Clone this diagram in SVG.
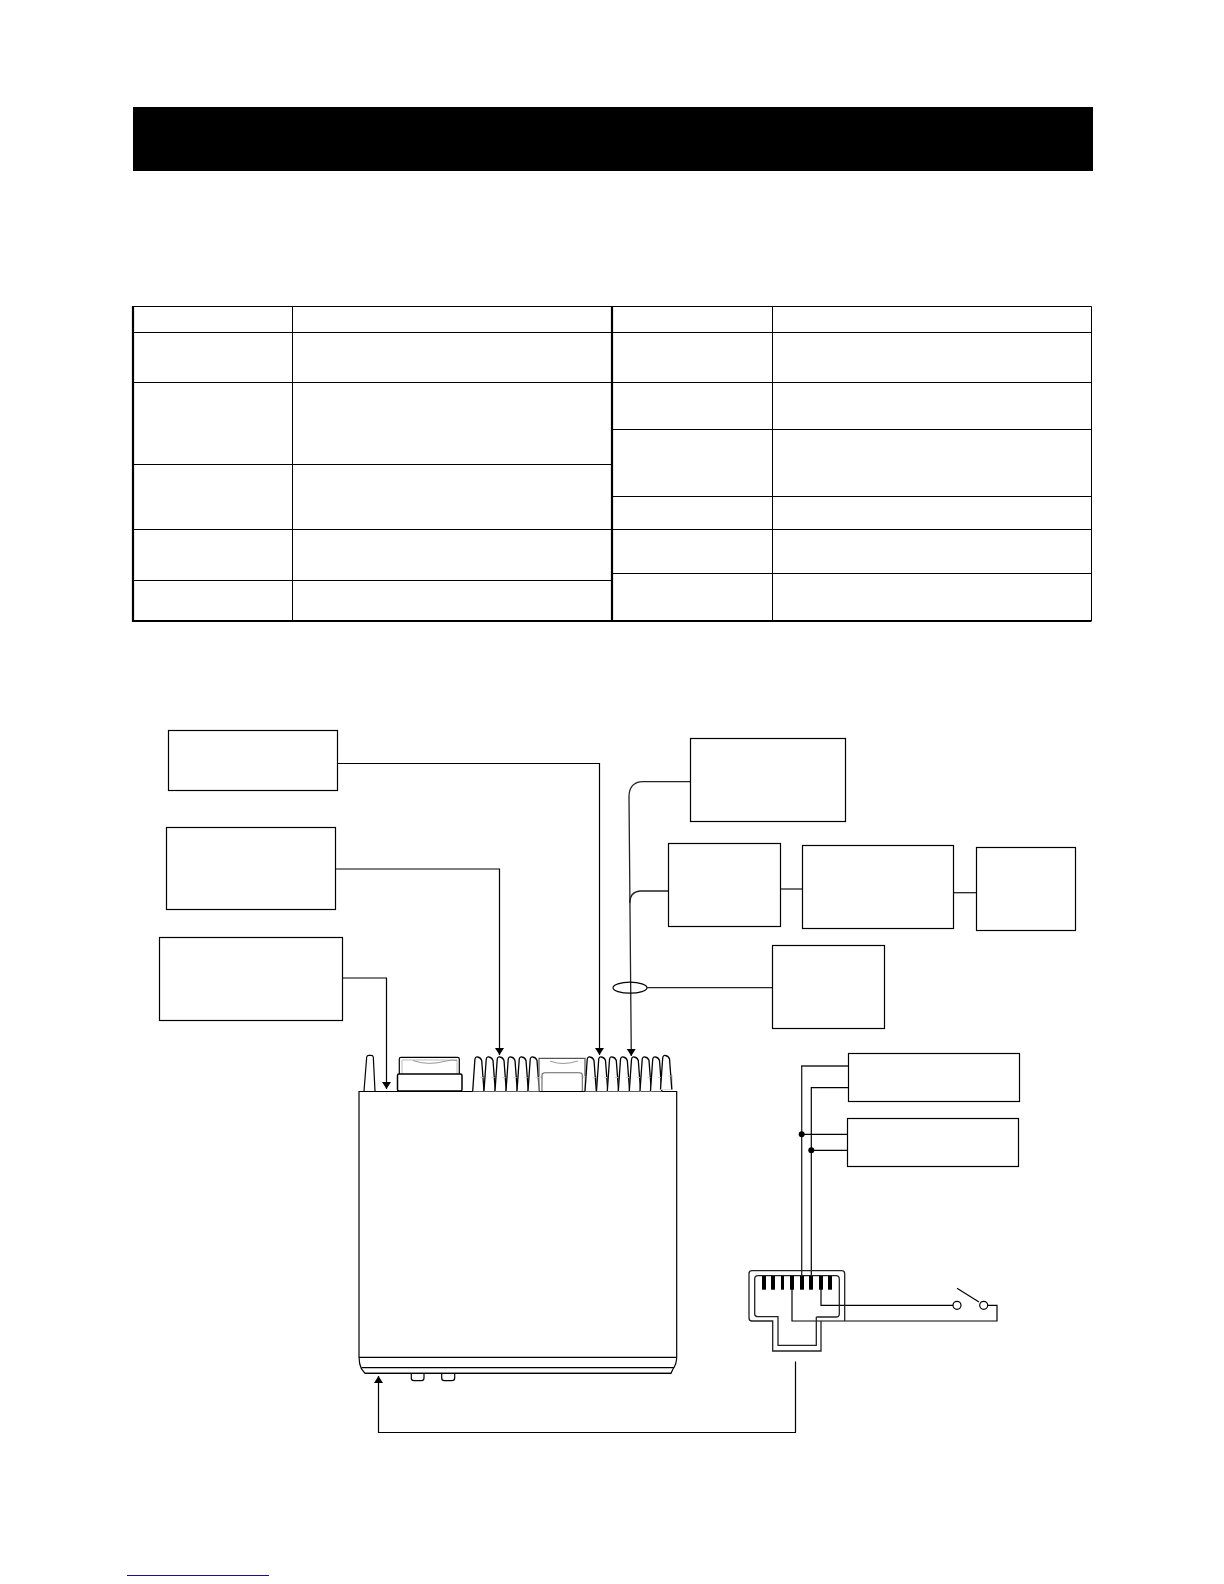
<svg xmlns="http://www.w3.org/2000/svg" xmlns:xlink="http://www.w3.org/1999/xlink" width="1224" height="1584" viewBox="0 0 1224 1584">
<style>
.box{fill:#fff;stroke:#000;stroke-width:1.2}
.w{fill:none;stroke:#000;stroke-width:1.2}
.wg{fill:none;stroke:#222;stroke-width:1.3}
.t{fill:none;stroke:#000;stroke-width:1}
.tb{fill:none;stroke:#000;stroke-width:2.2}
</style>
<defs>
<marker id="ah" markerUnits="userSpaceOnUse" markerWidth="8" markerHeight="10" refX="7" refY="4.500" orient="auto" viewBox="0 0 8 10"><path d="M0 0L7 4.500L0 9Z" fill="#000"/></marker>
<g id="fin"><path d="M7 20H11.500V34.500H0" fill="none" stroke="#bbb" stroke-width="1"/><path d="M0 34.500L2.200 3Q2.500 0 5 .5Q8 1 9 4L11.300 34.500" fill="#fff" stroke="#000" stroke-width="1.300"/><path d="M7.500 21H10.500" stroke="#ccc" stroke-width="1"/></g>
</defs>
<rect width="1224" height="1584" fill="#fff"/>
<rect id="header" x="133" y="107" width="960" height="64" fill="#000"/>

<g id="table">
<path class="t" d="M133 306.500H1091.500V621M133 332.500H1091.500M133 382.500H1091.500M133 464.500H612M612 429.500H1091.500M612 496.500H1091.500M133 529.500H1091.500M133 580.500H612M612 573.500H1091.500M292.500 306.500V621M772.500 306.500V621"/>
<path class="tb" d="M133 306V621H1091.500M612 306V621"/>
</g>

<g id="connectors">
<path class="w" d="M337 763.500H599.500V1055" marker-end="url(#ah)"/>
<path class="w" d="M335 869H499.500V1055" marker-end="url(#ah)"/>
<path class="w" d="M342 978H386.500V1089" marker-end="url(#ah)"/>
<path class="wg" d="M690 781.700H643Q629 782 629 797L631.300 1056" marker-end="url(#ah)"/>
<path class="wg" d="M668 891H640Q629.700 892 629.700 903"/>
<ellipse class="w" cx="630" cy="987.700" rx="17" ry="5.500"/>
<path class="wg" d="M647 987.700H772"/>
<path class="wg" d="M781 889H802"/>
<path class="wg" d="M953 892.700H976"/>
<path class="wg" d="M848 1066H801.700V1276"/>
<path class="w" d="M848 1087.700H811.300V1276"/>
<path class="w" d="M847 1134.300H801.700M847 1150.300H811.300"/>
<circle cx="801.700" cy="1134.300" r="3"/>
<circle cx="811.300" cy="1150.300" r="3"/>
<path class="w" d="M795.500 1361.500V1432.500H378.500V1376" marker-end="url(#ah)"/>
<path class="w" d="M792 1285V1321H997V1305.300H987.700M821 1285V1305.300H953"/>
<circle class="w" cx="957" cy="1305.300" r="4"/>
<circle class="w" cx="983.700" cy="1305.300" r="4"/>
<path class="w" d="M957 1288.300L979 1302"/>
</g>

<g id="box-1"><rect class="box" x="168.500" y="730.500" width="169" height="60"/></g>
<g id="box-2"><rect class="box" x="166.500" y="827.500" width="169" height="82"/></g>
<g id="box-3"><rect class="box" x="159.500" y="937.500" width="183" height="83"/></g>
<g id="box-4"><rect class="box" x="690.500" y="738.500" width="155" height="83"/></g>
<g id="box-5"><rect class="box" x="668.500" y="843.500" width="112" height="83"/></g>
<g id="box-6"><rect class="box" x="802.500" y="845.500" width="151" height="83"/></g>
<g id="box-7"><rect class="box" x="976.500" y="847.500" width="99" height="83"/></g>
<g id="box-8"><rect class="box" x="772.500" y="945.500" width="112" height="83"/></g>
<g id="box-9"><rect class="box" x="848.500" y="1053.500" width="171" height="48"/></g>
<g id="box-10"><rect class="box" x="847.500" y="1118.500" width="171" height="48"/></g>

<g id="radio">
<path class="w" d="M359 1091.500H676.700V1357Q676.700 1364 673 1369L671 1373.300H365L361.500 1369Q359 1364 359 1357Z"/>
<path class="w" d="M359 1357.300H676.700M361.500 1367.700H674M365 1373.300H671"/>
<path class="w" d="M411.300 1373.500V1378Q411.300 1380.700 414 1380.700H421.300Q424 1380.700 424 1378V1373.500M441.700 1373.500V1378Q441.700 1380.700 444.400 1380.700H452Q454.700 1380.700 454.700 1378V1373.500"/>
<path class="w" d="M364 1091L366.700 1057Q367 1055.300 369 1055.300H371Q373 1055.300 373.300 1057L375 1091"/>
<g id="rear-connector-left">
<path d="M399.300 1074V1059Q399.300 1057.300 401 1057.300H457.500Q459.300 1057.300 459.300 1059V1074" fill="#fff" stroke="#000" stroke-width="1.200"/>
<path d="M402 1074V1060H457V1074" fill="none" stroke="#bbb" stroke-width="1"/>
<path d="M413 1060.500Q428 1066 446 1061Q452 1059.500 457 1060.500" fill="none" stroke="#999" stroke-width="1"/>
<rect x="397.500" y="1074" width="64.500" height="17" rx="1.500" fill="#fff" stroke="#000" stroke-width="1.500"/>
</g>
<use href="#fin" x="472.700" y="1056.500"/>
<use href="#fin" x="484" y="1056.500"/>
<use href="#fin" x="495" y="1056.500"/>
<use href="#fin" x="506" y="1056.500"/>
<use href="#fin" x="517" y="1056.500"/>
<use href="#fin" x="528" y="1056.500"/>
<g id="rear-connector-right">
<path d="M539 1076V1058.300H585V1076" fill="#fff" stroke="#555" stroke-width="1.200"/>
<path d="M550 1061Q562 1066 578 1061" fill="none" stroke="#999" stroke-width="1"/>
<path d="M539 1091V1077H585V1091" fill="none" stroke="#bbb" stroke-width="1"/>
<path d="M542 1091V1075Q542 1072.700 545 1072.700H579.500Q582.300 1072.700 582.300 1075V1091" fill="#fff" stroke="#666" stroke-width="1.100"/>
</g>
<use href="#fin" x="585" y="1056.500"/>
<use href="#fin" x="596.500" y="1056.500"/>
<use href="#fin" x="607.300" y="1056.500"/>
<use href="#fin" x="618.300" y="1056.500"/>
<use href="#fin" x="629.300" y="1056.500"/>
<use href="#fin" x="640" y="1056.500"/>
<use href="#fin" x="650.500" y="1056.500"/>
<use href="#fin" x="660.500" y="1055"/>
</g>

<g id="din-plug">
<path class="wg" d="M844.700 1321V1273.700Q844.700 1270.700 841.700 1270.700H752Q749 1270.700 749 1273.700V1318Q749 1321 752 1321H772.700V1351H821V1321"/>
<path class="wg" d="M816.300 1317H836Q839.300 1317 839.300 1314V1279Q839.300 1275.700 836 1275.700H758Q754.700 1275.700 754.700 1279V1314Q754.700 1316.700 758 1316.700H778V1345.300H816.300V1317"/>
<g fill="#000">
<rect x="762" y="1276" width="4" height="13.700"/>
<rect x="771" y="1276" width="4" height="13.700"/>
<rect x="781" y="1276" width="3" height="13.700"/>
<rect x="790" y="1276" width="4" height="13.700"/>
<rect x="800" y="1276" width="4" height="13.700"/>
<rect x="809" y="1276" width="4" height="13.700"/>
<rect x="819" y="1276" width="4" height="13.700"/>
<rect x="828" y="1276" width="4" height="13.700"/>
</g>
</g>
<path id="footer-rule" d="M127 1575.500H269" fill="none" stroke="#1a0f8c" stroke-width="1.200"/>
</svg>
